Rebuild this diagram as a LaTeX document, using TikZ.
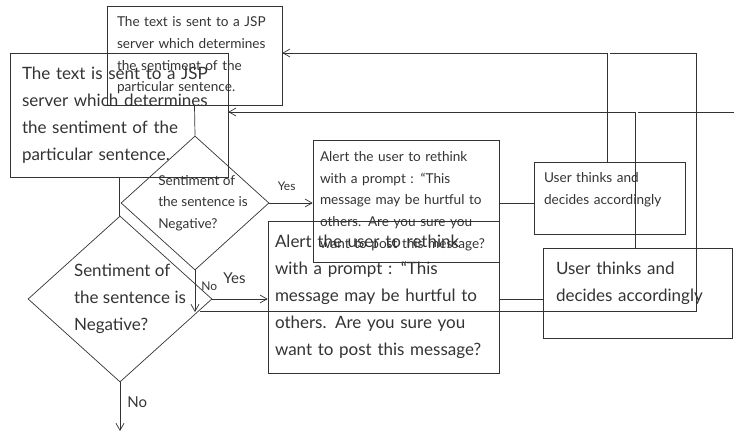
\documentclass[tikz,border=0pt]{standalone}
\usepackage{fontspec}
\setmainfont{Lato}
\usetikzlibrary{arrows.meta,shapes.geometric}
\definecolor{FlowInk}{HTML}{333333}

\begin{document}
\begin{tikzpicture}[x=1pt, y=-1pt,
	box/.style={draw=FlowInk, align=left, inner sep=0pt, text=FlowInk, line width=0.7pt},
	smallbox/.style={box, font=\fontsize{13.6}{21.7}\selectfont},
	bigbox/.style={box, font=\fontsize{17}{27.1}\selectfont},
	decision/.style={diamond, aspect=1.1, inner xsep=-12pt, inner ysep=-4pt},
	arrow/.style={-{Straight Barb[length=7pt,width=8pt]}, draw=FlowInk, line width=0.7pt},
	link/.style={draw=FlowInk, line width=0.7pt},
	smalltag/.style={inner sep=0pt, text=FlowInk, font=\fontsize{12}{14}\selectfont},
	bigtag/.style={inner sep=0pt, text=FlowInk, font=\fontsize{15}{17}\selectfont}
]
\useasboundingbox (0,0) rectangle (734,432);
\clip (0,0) rectangle (734,432);

% smaller copy
\node[smallbox, minimum width=175pt, minimum height=99pt, text width=155pt] (jspS) at (194.5,55.5) {The text is sent to a JSP\\server which determines\\the sentiment of the\\particular sentence.};
\node[smallbox, decision, minimum width=148pt, minimum height=134pt] (senS) at (195,203) {\hspace*{16pt}Sentiment of\\\hspace*{16pt}the sentence is\\\hspace*{16pt}Negative?};
\node[smallbox, minimum width=186pt, minimum height=122pt, text width=172pt] (alertS) at (406,201) {Alert the user to rethink\\with a prompt : “This\\message may be hurtful to\\others. Are you sure you\\want to post this message?};
\node[smallbox, minimum width=151pt, minimum height=72pt, text width=131pt] (userS) at (609.5,198) {User thinks and\\decides accordingly\\[-9pt]\strut};
\coordinate (endS) at (195,312);
\coordinate (loopS) at (200,311);
\coordinate (turnS) at (696,53);

\draw[link] (jspS.south) -- (senS.north);
\draw[arrow] (senS.east) -- node[smalltag, above=12pt, pos=0.4] {Yes} (senS.east -| alertS.west);
\draw[link] (alertS.east |- senS.east) -- (userS.west |- senS.east);
\draw[arrow] ([xshift=-2.5pt]userS.north) |- ([yshift=2.5pt]jspS.east);
\draw[arrow] (senS.south) -- node[smalltag, right=6pt, pos=0.38] {No} (endS);
\draw[link] (loopS) -| (turnS) -- (turnS -| userS.north);

% larger copy
\node[bigbox, minimum width=218pt, minimum height=124pt, text width=194pt] (jspL) at (119,115) {The text is sent to a JSP\\server which determines\\the sentiment of the\\particular sentence.};
\node[bigbox, decision, minimum width=184pt, minimum height=166pt] (senL) at (120,299) {\hspace*{20pt}Sentiment of\\\hspace*{20pt}the sentence is\\\hspace*{20pt}Negative?};
\node[bigbox, minimum width=231pt, minimum height=152pt, text width=217pt] (alertL) at (383.5,297) {Alert the user to rethink\\with a prompt : “This\\message may be hurtful to\\others. Are you sure you\\want to post this message?};
\node[bigbox, minimum width=189pt, minimum height=90pt, text width=163pt] (userL) at (637.5,293) {User thinks and\\decides accordingly\\[-13pt]\strut};
\coordinate (endL) at (120,431);
\coordinate (edgeL) at (740,112);

\draw[link] (jspL.south) -- (jspL.south |- senL.north);
\draw[arrow] (senL.east) -- node[bigtag, above=15pt, pos=0.4] {Yes} (senL.east -| alertL.west);
\draw[link] (alertL.east |- senL.east) -- (userL.west |- senL.east);
\draw[arrow] ([xshift=-2.5pt]userL.north) |- ([yshift=3pt]jspL.east);
\draw[link] (edgeL) -- (edgeL -| userL.north);
\draw[arrow] (senL.south) -- node[bigtag, right=7pt, pos=0.41] {No} (endL);
\end{tikzpicture}
\end{document}
